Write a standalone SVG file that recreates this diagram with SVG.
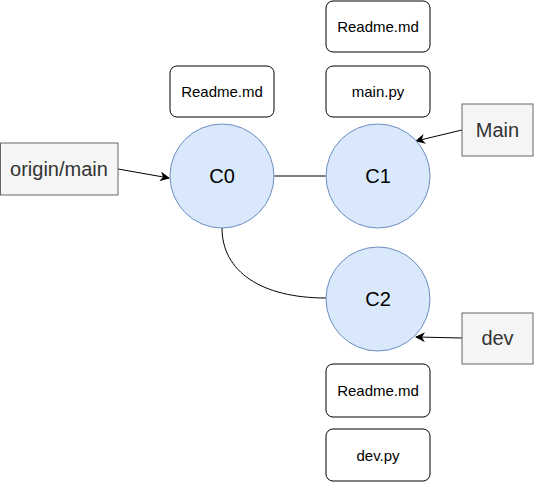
<svg xmlns="http://www.w3.org/2000/svg" width="536" height="483" viewBox="0 0 536 483">
<defs>
<style>
.commit{fill:#dae8fc;stroke:#6c8ebf;stroke-width:1}
.file{fill:#ffffff;stroke:#000000;stroke-width:1}
.ref{fill:#f5f5f5;stroke:#666666;stroke-width:1}
.t{font-family:"Liberation Sans",Arial,sans-serif;text-anchor:middle}
.big{font-size:20px;fill:#000}
.reft{font-size:20px;fill:#333333}
.small{font-size:15px;fill:#000}
.edge{fill:none;stroke:#000;stroke-width:1}
</style>
<marker id="arr" viewBox="0 0 10 10" refX="9" refY="5" markerWidth="10" markerHeight="10" markerUnits="userSpaceOnUse" orient="auto">
<path d="M0,0 L10,5 L0,10 L3,5 Z" fill="#000"/>
</marker>
</defs>
<rect width="536" height="483" fill="#ffffff"/>
<g id="connectors">
<line class="edge" x1="274" y1="176" x2="326" y2="176"/>
<path class="edge" d="M222,228 C222,272 262,298 326,298"/>
<line class="edge" x1="118" y1="169" x2="169" y2="178" marker-end="url(#arr)"/>
<line class="edge" x1="462" y1="130" x2="416" y2="141" marker-end="url(#arr)"/>
<line class="edge" x1="462" y1="338" x2="416" y2="337" marker-end="url(#arr)"/>
</g>
<g id="C0"><circle class="commit" cx="222" cy="176" r="52"/><text class="t big" x="222" y="183">C0</text></g>
<g id="C1"><circle class="commit" cx="378" cy="176" r="52"/><text class="t big" x="378" y="183">C1</text></g>
<g id="C2"><circle class="commit" cx="378" cy="299" r="52"/><text class="t big" x="378" y="306">C2</text></g>
<g id="origin-main"><rect class="ref" x="0.5" y="143" width="117.5" height="52"/><text class="t reft" x="59" y="176">origin/main</text></g>
<g id="Main"><rect class="ref" x="462" y="104" width="71" height="52"/><text class="t reft" x="497.5" y="137">Main</text></g>
<g id="dev"><rect class="ref" x="462" y="313" width="71" height="51"/><text class="t reft" x="497.5" y="345">dev</text></g>
<g id="c0-readme"><rect class="file" x="170" y="66" width="104" height="51" rx="7" ry="7"/><text class="t small" x="222" y="96.5">Readme.md</text></g>
<g id="c1-readme"><rect class="file" x="326" y="1" width="104" height="51" rx="7" ry="7"/><text class="t small" x="378" y="31.5">Readme.md</text></g>
<g id="c1-main-py"><rect class="file" x="326" y="66" width="104" height="51" rx="7" ry="7"/><text class="t small" x="378" y="96.5">main.py</text></g>
<g id="c2-readme"><rect class="file" x="326" y="364" width="104" height="53" rx="7" ry="7"/><text class="t small" x="378" y="395.5">Readme.md</text></g>
<g id="c2-dev-py"><rect class="file" x="326" y="429" width="104" height="52" rx="7" ry="7"/><text class="t small" x="378" y="460.5">dev.py</text></g>
</svg>
